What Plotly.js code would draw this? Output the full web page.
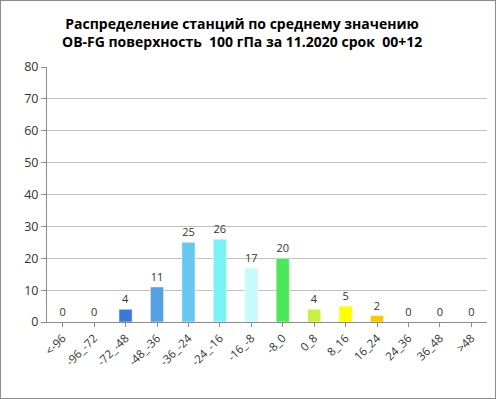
<!DOCTYPE html>
<html><head><meta charset="utf-8">
<script src="https://cdn.plot.ly/plotly-3.0.1.min.js"></script>
<style>html,body{margin:0;padding:0;background:#fff}#c{width:494px;height:397px;border:1px solid #8c8c8c}</style>
</head><body><div id="c"></div>
<script>
const categories = ["<-96","-96_-72","-72_-48","-48_-36","-36_-24","-24_-16","-16_-8","-8_0","0_8","8_16","16_24","24_36","36_48",">48"];
const counts = [0,0,4,11,25,26,17,20,4,5,2,0,0,0];
const colors = ["#3c78d8","#3c78d8","#3c78d8","#55a0e3","#66c8f0","#78f4f8","#c8fafc","#4ce85a","#c8f040","#ffff00","#f8c800","#f8c800","#f8c800","#f8c800"];
const yTicks = [0,10,20,30,40,50,60,70,80];

const trace = {
  type: "bar", x: categories, y: counts,
  marker: {color: colors, line: {color: "rgba(255,255,255,0.5)", width: 1}},
  text: counts.map(String), textposition: "outside", cliponaxis: false,
  textfont: {family: "Open Sans, sans-serif", size: 11, color: "#333"},
  hoverinfo: "none"
};
const layout = {
  width: 494, height: 397,
  margin: {l: 46, r: 8, t: 66, b: 76},
  paper_bgcolor: "#fff", plot_bgcolor: "#fff",
  bargap: 0.58,
  title: {text: "Распределение станций по среднему значению<br>OB-FG поверхность  100 гПа за 11.2020 срок  00+12",
    font: {family: "Open Sans, sans-serif", size: 14, color: "#000", weight: "bold"},
    x: 0.488, xanchor: "center", y: 0.93, yanchor: "top"},
  xaxis: {type: "category", tickangle: -45, showline: true, linecolor: "#8c8c8c", ticks: "outside",
    ticklen: 4, tickcolor: "#8c8c8c", showgrid: false,
    tickfont: {family: "Open Sans, sans-serif", size: 11.5, color: "#333"}},
  yaxis: {range: [0, 80], tickvals: yTicks, showline: true, linecolor: "#8c8c8c", ticks: "outside",
    ticklen: 5, tickcolor: "#8c8c8c", gridcolor: "#c0c0c0", gridwidth: 1, zeroline: false,
    tickfont: {family: "Open Sans, sans-serif", size: 12.5, color: "#333"}},
  showlegend: false
};
Plotly.newPlot("c", [trace], layout, {displayModeBar: false, staticPlot: true});
</script></body></html>
